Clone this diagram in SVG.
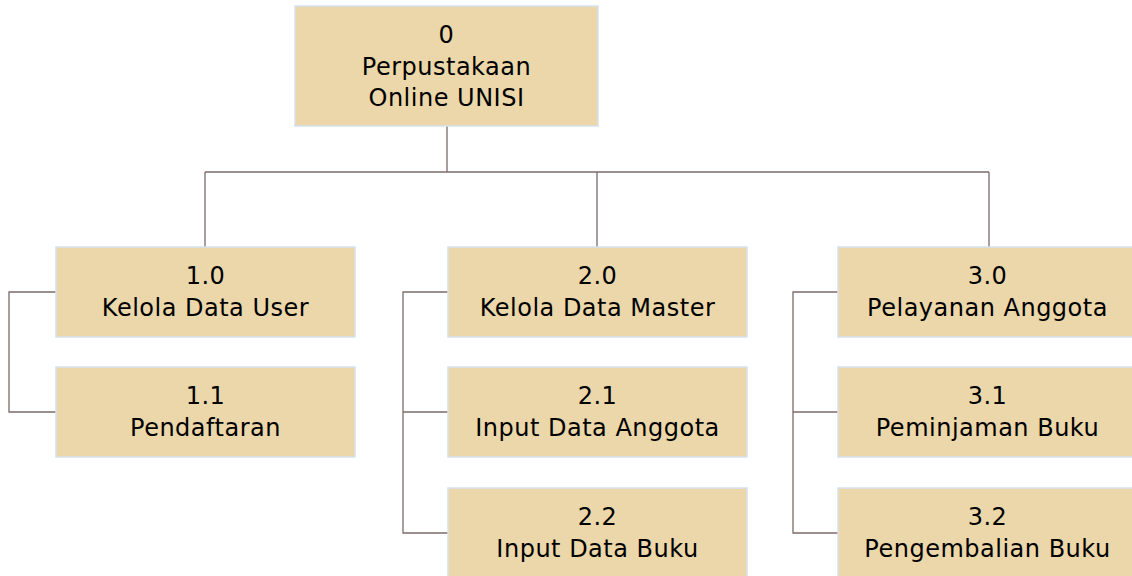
<svg xmlns="http://www.w3.org/2000/svg" width="1132" height="576" viewBox="0 0 1132 576">
<style>
.box{fill:#ebd7a9;stroke:#d6e2ee;stroke-width:1.5}
.t{font-family:"DejaVu Sans","Open Sans",sans-serif;font-size:24px;letter-spacing:0.5px;fill:#000;text-anchor:middle}
.c{fill:none;stroke:#7d6b68;stroke-width:1.3}
</style>
<rect width="1132" height="576" fill="#fff"/>
<g id="connectors">
<path class="c" d="M447 126V172M205 172H989M205 172V247M597 172V247M989 172V247"/>
<path class="c" d="M56 292H9V412H56"/>
<path class="c" d="M448 292H403V533H448M403 412H448"/>
<path class="c" d="M838 292H793V533H838M793 412H838"/>
</g>
<g id="n0"><rect class="box" x="295" y="6" width="303" height="120"/>
<text class="t" x="446.5" y="43">0</text><text class="t" x="446.5" y="75">Perpustakaan</text><text class="t" x="446.5" y="106">Online UNISI</text></g>
<g id="n1_0"><rect class="box" x="56" y="247" width="299" height="90"/>
<text class="t" x="205.5" y="284">1.0</text><text class="t" x="205.5" y="316">Kelola Data User</text></g>
<g id="n1_1"><rect class="box" x="56" y="367" width="299" height="90"/>
<text class="t" x="205.5" y="404">1.1</text><text class="t" x="205.5" y="436">Pendaftaran</text></g>
<g id="n2_0"><rect class="box" x="448" y="247" width="299" height="90"/>
<text class="t" x="597.5" y="284">2.0</text><text class="t" x="597.5" y="316">Kelola Data Master</text></g>
<g id="n2_1"><rect class="box" x="448" y="367" width="299" height="90"/>
<text class="t" x="597.5" y="404">2.1</text><text class="t" x="597.5" y="436">Input Data Anggota</text></g>
<g id="n2_2"><rect class="box" x="448" y="488" width="299" height="92"/>
<text class="t" x="597.5" y="525">2.2</text><text class="t" x="597.5" y="557">Input Data Buku</text></g>
<g id="n3_0"><rect class="box" x="838" y="247" width="299" height="90"/>
<text class="t" x="987.5" y="284">3.0</text><text class="t" x="987.5" y="316">Pelayanan Anggota</text></g>
<g id="n3_1"><rect class="box" x="838" y="367" width="299" height="90"/>
<text class="t" x="987.5" y="404">3.1</text><text class="t" x="987.5" y="436">Peminjaman Buku</text></g>
<g id="n3_2"><rect class="box" x="838" y="488" width="299" height="92"/>
<text class="t" x="987.5" y="525">3.2</text><text class="t" x="987.5" y="557">Pengembalian Buku</text></g>
</svg>
